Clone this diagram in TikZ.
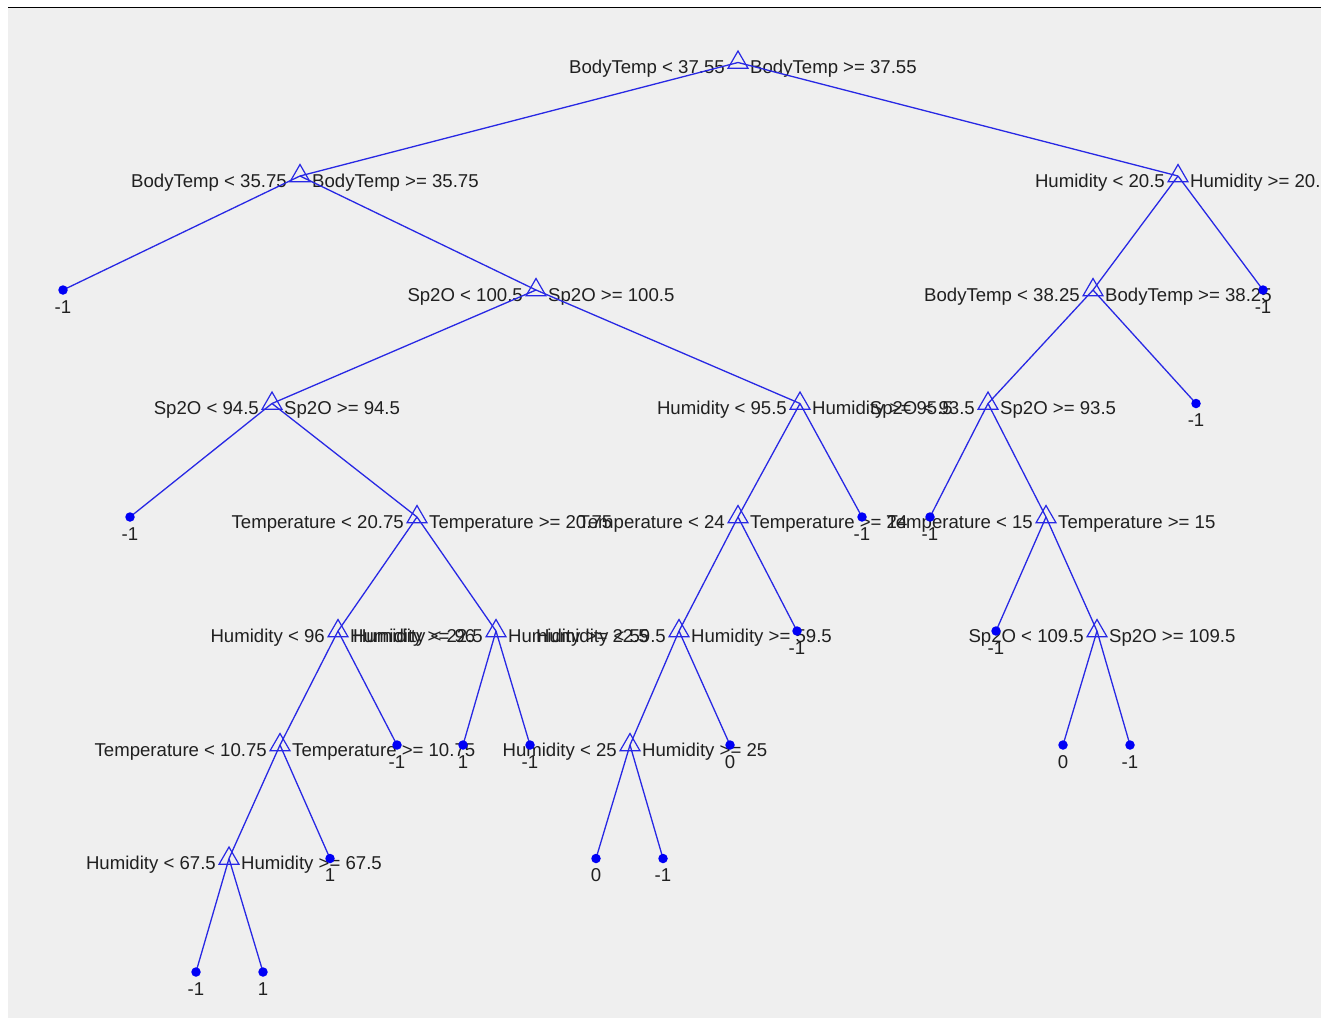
\documentclass[tikz,border=0pt]{standalone}
\usepackage{fontspec}
\setmainfont{Liberation Sans}
\usetikzlibrary{shapes.geometric}
\definecolor{bgc}{HTML}{EFEFEF}
\definecolor{txtc}{HTML}{202020}
\definecolor{lnc}{RGB}{40,40,228}
\definecolor{dotc}{RGB}{0,0,245}
\tikzset{
  lbl/.style={font=\fontsize{18.6}{20}\selectfont, text=txtc, inner sep=0pt},
  tri/.style={regular polygon, regular polygon sides=3, draw=lnc, line width=1.2pt, minimum size=23pt, inner sep=0pt},
  leafdot/.style={circle, fill=dotc, inner sep=0pt, minimum size=9.5pt},
  branch/.style={draw=lnc, line width=1.3pt}
}
\newcommand\splitnode[5]{%
  \coordinate (#1) at (#2,#3);
  \node[lbl, anchor=base east, xshift=-13pt, yshift=-11pt] (#1-l) at (#1) {#4};
  \node[lbl, anchor=base west, xshift=12pt, yshift=-11pt] (#1-r) at (#1) {#5};
}
\newcommand\leafnode[4]{%
  \coordinate (#1) at (#2,#3);
  \node[lbl, anchor=base, yshift=-23pt] (#1-t) at (#1) {#4};
}
\begin{document}
\begin{tikzpicture}[x=1pt,y=-1pt]
\useasboundingbox (0,0) rectangle (1321,1018);
\fill[white] (0,0) rectangle (1321,1018);
\fill[bgc] (8,8) rectangle (1321,1018);
\draw[black, line width=1.6pt] (8,7.5) -- (1321,7.5);

% internal nodes
\splitnode{root}{738}{62.5}{BodyTemp < 37.55}{BodyTemp >= 37.55}
\splitnode{A}{300}{176}{BodyTemp < 35.75}{BodyTemp >= 35.75}
\splitnode{B}{1178}{176}{Humidity < 20.5}{Humidity >= 20.5}
\splitnode{C}{536}{290}{Sp2O < 100.5}{Sp2O >= 100.5}
\splitnode{D}{1093}{290}{BodyTemp < 38.25}{BodyTemp >= 38.25}
\splitnode{E}{272}{403.5}{Sp2O < 94.5}{Sp2O >= 94.5}
\splitnode{F}{800}{403.5}{Humidity < 95.5}{Humidity >= 95.5}
\splitnode{G}{988}{403.5}{Sp2O < 93.5}{Sp2O >= 93.5}
\splitnode{H}{417}{517}{Temperature < 20.75}{Temperature >= 20.75}
\splitnode{I}{738}{517}{Temperature < 24}{Temperature >= 24}
\splitnode{J}{1046}{517}{Temperature < 15}{Temperature >= 15}
\splitnode{K}{338}{631}{Humidity < 96}{Humidity >= 96}
\splitnode{L}{496}{631}{Humidity < 22.5}{Humidity >= 22.5}
\splitnode{M}{679}{631}{Humidity < 59.5}{Humidity >= 59.5}
\splitnode{N}{1097}{631}{Sp2O < 109.5}{Sp2O >= 109.5}
\splitnode{O}{280}{745}{Temperature < 10.75}{Temperature >= 10.75}
\splitnode{P}{630}{745}{Humidity < 25}{Humidity >= 25}
\splitnode{Q}{229}{858.5}{Humidity < 67.5}{Humidity >= 67.5}

% leaves
\leafnode{a1}{63}{290}{-1}
\leafnode{b2}{1263}{290}{-1}
\leafnode{d2}{1196}{403.5}{-1}
\leafnode{e1}{130}{517}{-1}
\leafnode{f2}{862}{517}{-1}
\leafnode{g1}{930}{517}{-1}
\leafnode{i2}{797}{631}{-1}
\leafnode{j1}{996}{631}{-1}
\leafnode{k2}{397}{745}{-1}
\leafnode{l1}{463}{745}{1}
\leafnode{l2}{530}{745}{-1}
\leafnode{m2}{730}{745}{0}
\leafnode{n1}{1063}{745}{0}
\leafnode{n2}{1130}{745}{-1}
\leafnode{o2}{330}{858.5}{1}
\leafnode{p1}{596}{858.5}{0}
\leafnode{p2}{663}{858.5}{-1}
\leafnode{q1}{196}{972}{-1}
\leafnode{q2}{263}{972}{1}

% branches
\draw[branch] (root) -- (A);  \draw[branch] (root) -- (B);
\draw[branch] (A) -- (a1);    \draw[branch] (A) -- (C);
\draw[branch] (B) -- (D);     \draw[branch] (B) -- (b2);
\draw[branch] (C) -- (E);     \draw[branch] (C) -- (F);
\draw[branch] (D) -- (G);     \draw[branch] (D) -- (d2);
\draw[branch] (E) -- (e1);    \draw[branch] (E) -- (H);
\draw[branch] (F) -- (I);     \draw[branch] (F) -- (f2);
\draw[branch] (G) -- (g1);    \draw[branch] (G) -- (J);
\draw[branch] (H) -- (K);     \draw[branch] (H) -- (L);
\draw[branch] (I) -- (M);     \draw[branch] (I) -- (i2);
\draw[branch] (J) -- (j1);    \draw[branch] (J) -- (N);
\draw[branch] (K) -- (O);     \draw[branch] (K) -- (k2);
\draw[branch] (L) -- (l1);    \draw[branch] (L) -- (l2);
\draw[branch] (M) -- (P);     \draw[branch] (M) -- (m2);
\draw[branch] (N) -- (n1);    \draw[branch] (N) -- (n2);
\draw[branch] (O) -- (Q);     \draw[branch] (O) -- (o2);
\draw[branch] (P) -- (p1);    \draw[branch] (P) -- (p2);
\draw[branch] (Q) -- (q1);    \draw[branch] (Q) -- (q2);

% markers
\foreach \n in {root,A,B,C,D,E,F,G,H,I,J,K,L,M,N,O,P,Q}
  \node[tri] (\n-m) at (\n) {};
\foreach \n in {a1,b2,d2,e1,f2,g1,i2,j1,k2,l1,l2,m2,n1,n2,o2,p1,p2,q1,q2}
  \node[leafdot] (\n-m) at (\n) {};
\end{tikzpicture}
\end{document}
